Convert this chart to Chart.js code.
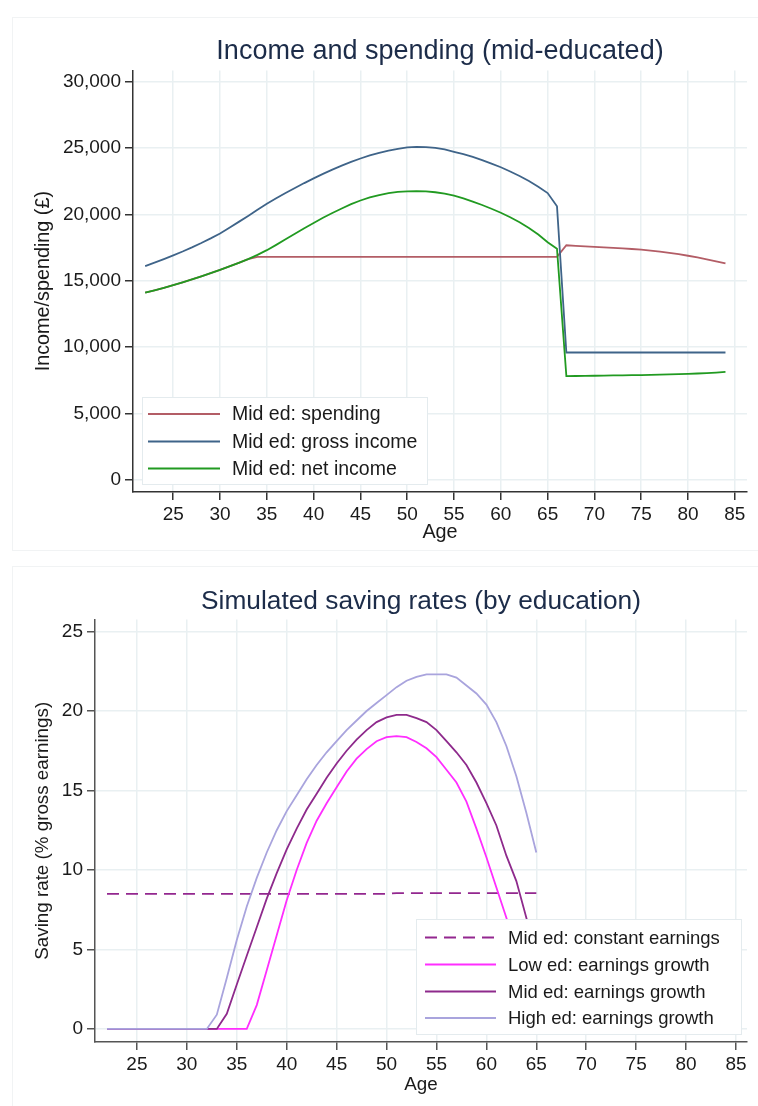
<!DOCTYPE html>
<html>
<head>
<meta charset="utf-8">
<script src="https://cdn.jsdelivr.net/npm/chart.js"></script>
<style>
  html, body { margin: 0; padding: 0; background: #fff; }
  .panel { position: absolute; left: 0; }
</style>
</head>
<body>
<canvas id="incomeChart" class="panel" width="758" height="553" style="top:0"></canvas>
<canvas id="savingChart" class="panel" width="758" height="553" style="top:553px"></canvas>
<script>
    // ---- data: income and spending, mid-educated, ages 22-84 ----
    const range = (a, b) => Array.from({ length: b - a + 1 }, (_, i) => a + i);

    const incomeAges = range(22, 84);
    const incomeTicksX = [25, 30, 35, 40, 45, 50, 55, 60, 65, 70, 75, 80, 85];
    const incomeTicksY = [0, 5000, 10000, 15000, 20000, 25000, 30000];

    const spending = [
        14100, 14280, 14470, 14670, 14880, 15100, 15330, 15570, 15820, 16080, 16350, 16630,
        16800, 16800, 16800, 16800, 16800, 16800, 16800, 16800, 16800, 16800, 16800, 16800,
        16800, 16800, 16800, 16800, 16800, 16800, 16800, 16800, 16800, 16800, 16800, 16800,
        16800, 16800, 16800, 16800, 16800, 16800, 16800, 16800, 16800,
        17670, 17630, 17590, 17550, 17510, 17470, 17430, 17390, 17340, 17270, 17190, 17100,
        17000, 16880, 16750, 16610, 16460, 16300
    ];
    const grossIncome = [
        16100, 16360, 16630, 16910, 17200, 17510, 17840, 18190, 18560, 18990, 19430, 19880,
        20340, 20800, 21210, 21600, 21980, 22350, 22700, 23040, 23360, 23660, 23940, 24200,
        24430, 24620, 24790, 24930, 25030, 25070, 25060, 25000, 24880, 24700, 24520, 24320,
        24080, 23820, 23540, 23220, 22880, 22500, 22080, 21600, 20600,
        9600, 9600, 9600, 9600, 9600, 9600, 9600, 9600, 9600, 9600, 9600, 9600,
        9600, 9600, 9600, 9600, 9600, 9600
    ];
    const netIncome = [
        14100, 14280, 14470, 14670, 14880, 15100, 15330, 15570, 15820, 16080, 16350, 16630,
        16950, 17300, 17700, 18120, 18540, 18950, 19350, 19740, 20100, 20440, 20760, 21040,
        21270, 21450, 21590, 21680, 21730, 21750, 21730, 21660, 21550, 21400, 21200, 20960,
        20700, 20420, 20120, 19780, 19400, 18970, 18480, 17900, 17400,
        7820, 7830, 7840, 7850, 7860, 7870, 7880, 7890, 7900, 7910, 7930, 7950,
        7970, 7990, 8020, 8050, 8090, 8140
    ];

    // ---- data: saving rates by education, ages 22-65 ----
    const savingAges = range(22, 65);
    const savingTicksX = [25, 30, 35, 40, 45, 50, 55, 60, 65, 70, 75, 80, 85];
    const savingTicksY = [0, 5, 10, 15, 20, 25];

    const midConstant = [
        8.5, 8.5, 8.5, 8.5, 8.5, 8.5, 8.5, 8.5, 8.5, 8.5, 8.5, 8.5, 8.5, 8.5, 8.5,
        8.5, 8.5, 8.5, 8.5, 8.5, 8.5, 8.5, 8.5, 8.5, 8.5, 8.5, 8.5, 8.5, 8.5,
        8.55, 8.55, 8.55, 8.55, 8.55, 8.55, 8.55, 8.55, 8.55, 8.55, 8.55, 8.55, 8.55, 8.55, 8.55
    ];
    const lowGrowth = [
        0, 0, 0, 0, 0, 0, 0, 0, 0, 0, 0, 0, 0, 0, 0,
        1.5, 3.7, 5.9, 8.1, 10.0, 11.7, 13.1, 14.2, 15.2, 16.2, 17.0, 17.6, 18.1, 18.35, 18.42,
        18.35, 18.05, 17.65, 17.1, 16.3, 15.5, 14.3, 12.6, 10.8, 8.9, 7.0, 5.0, 2.8, 0.5
    ];
    const midGrowth = [
        0, 0, 0, 0, 0, 0, 0, 0, 0, 0, 0, 0,
        0.95, 2.8, 4.6, 6.4, 8.2, 9.8, 11.3, 12.6, 13.8, 14.8, 15.8, 16.7, 17.5, 18.2, 18.8,
        19.3, 19.6, 19.75, 19.75, 19.55, 19.3, 18.8, 18.1, 17.4, 16.6, 15.5, 14.2, 12.8, 10.9,
        9.3, 7.0, 4.5
    ];
    const highGrowth = [
        0, 0, 0, 0, 0, 0, 0, 0, 0, 0, 0,
        0.9, 3.2, 5.6, 7.7, 9.5, 11.1, 12.5, 13.7, 14.7, 15.7, 16.6, 17.4, 18.1, 18.8, 19.4,
        20.0, 20.5, 21.0, 21.5, 21.9, 22.15, 22.3, 22.3, 22.3, 22.1, 21.6, 21.1, 20.4, 19.3,
        17.8, 15.9, 13.6, 11.1
    ];

    const FONT = "'Liberation Sans', Arial, sans-serif";
    Chart.defaults.font.family = FONT;
    Chart.defaults.color = '#1a1a1a';

    const toPoints = (xs, ys) => xs.map((x, i) => ({ x: x, y: ys[i] }));

    // faint frame round each graph region
    const framePlugin = {
        id: 'frame',
        beforeDraw(chart, args, opts) {
            const ctx = chart.ctx;
            ctx.save();
            ctx.fillStyle = '#fff';
            ctx.fillRect(0, 0, chart.width, chart.height);
            ctx.strokeStyle = '#f1f3f4';
            ctx.lineWidth = 1;
            ctx.strokeRect(opts.x + 0.5, opts.y + 0.5, opts.w, opts.h);
            ctx.restore();
        }
    };

    // legend drawn inside the plot, on top of the lines
    const boxLegendPlugin = {
        id: 'boxLegend',
        afterDatasetsDraw(chart, args, opts) {
            const ctx = chart.ctx;
            const [x0, y0, x1, y1] = opts.box;
            ctx.save();
            ctx.fillStyle = '#fff';
            ctx.fillRect(x0, y0, x1 - x0, y1 - y0);
            ctx.strokeStyle = '#e4ebee';
            ctx.lineWidth = 1;
            ctx.strokeRect(x0 + 0.5, y0 + 0.5, x1 - x0, y1 - y0);
            ctx.font = opts.fontSize + 'px ' + FONT;
            ctx.textBaseline = 'middle';
            chart.data.datasets.forEach((ds, i) => {
                const y = opts.rows[i];
                ctx.strokeStyle = ds.borderColor;
                ctx.lineWidth = ds.borderWidth;
                ctx.setLineDash(ds.borderDash || []);
                ctx.beginPath();
                ctx.moveTo(opts.sample[0], y);
                ctx.lineTo(opts.sample[1], y);
                ctx.stroke();
                ctx.setLineDash([]);
                ctx.fillStyle = '#1a1a1a';
                ctx.fillText(ds.label, opts.textX, y + 1);
            });
            ctx.restore();
        }
    };

    function axisX(min, max, ticks, height, titleSize, titlePad, axisColor) {
        return {
            type: 'linear',
            min: min,
            max: max,
            afterBuildTicks: (s) => { s.ticks = ticks.map(v => ({ value: v })); },
            afterFit: (s) => { s.height = height; },
            grid: { color: '#e9f0f2', lineWidth: 1.5, tickColor: axisColor, tickLength: 8, tickWidth: 1.5 },
            border: { color: axisColor, width: 1.5 },
            ticks: { font: { size: 19 }, color: '#1a1a1a', padding: 3, maxRotation: 0 },
            title: { display: true, text: 'Age', font: { size: titleSize }, color: '#1a1a1a',
                     padding: { top: titlePad, bottom: titlePad } }
        };
    }

    function axisY(min, max, ticks, width, title, titleSize, axisColor, fmt) {
        return {
            type: 'linear',
            min: min,
            max: max,
            afterBuildTicks: (s) => { s.ticks = ticks.map(v => ({ value: v })); },
            afterFit: (s) => { s.width = width; },
            grid: { color: '#e9f0f2', lineWidth: 1.5, tickColor: axisColor, tickLength: 8, tickWidth: 1.5 },
            border: { color: axisColor, width: 1.5 },
            ticks: { font: { size: 19 }, color: '#1a1a1a', padding: 4, callback: fmt },
            title: { display: true, text: title, font: { size: titleSize }, color: '#1a1a1a',
                     padding: { top: 32, bottom: 32 } }
        };
    }

    function titleOpts(text, size, top, bottom) {
        return {
            display: true,
            text: text,
            fullSize: false,
            color: '#1c2c49',
            font: { size: size, weight: 'normal' },
            padding: { top: top, bottom: bottom }
        };
    }

    const line = (label, xs, ys, color, order, extra) => Object.assign({
        label: label,
        data: toPoints(xs, ys),
        borderColor: color,
        borderWidth: 1.8,
        pointRadius: 0,
        tension: 0,
        fill: false,
        order: order
    }, extra || {});

    new Chart(document.getElementById('incomeChart'), {
        type: 'line',
        data: {
            datasets: [
                line('Mid ed: spending', incomeAges, spending, '#b35d66', 2),
                line('Mid ed: gross income', incomeAges, grossIncome, '#3f6489', 1),
                line('Mid ed: net income', incomeAges, netIncome, '#219a21', 0)
            ]
        },
        options: {
            responsive: false,
            animation: false,
            devicePixelRatio: 1,
            layout: { padding: { top: 0, right: 11, bottom: 0, left: 0 } },
            scales: {
                x: axisX(20.7, 86.3, incomeTicksX, 61, 19.8, 9, '#333'),
                y: axisY(-900, 30830, incomeTicksY, 133, 'Income/spending (£)', 19.8, '#333',
                    (v) => v.toLocaleString('en-US'))
            },
            plugins: {
                legend: { display: false },
                tooltip: { enabled: false },
                title: titleOpts('Income and spending (mid-educated)', 27, 35, 3),
                frame: { x: 12, y: 17, w: 760, h: 533 },
                boxLegend: {
                    box: [142, 397, 427, 484],
                    rows: [414, 441.5, 468.5],
                    sample: [148, 220],
                    textX: 232,
                    fontSize: 19.5
                }
            }
        },
        plugins: [framePlugin, boxLegendPlugin]
    });

    new Chart(document.getElementById('savingChart'), {
        type: 'line',
        data: {
            datasets: [
                line('Mid ed: constant earnings', savingAges, midConstant, '#93278f', 3, { borderDash: [12, 7] }),
                line('Low ed: earnings growth', savingAges, lowGrowth, '#ff2eff', 2),
                line('Mid ed: earnings growth', savingAges, midGrowth, '#8e2a8c', 1),
                line('High ed: earnings growth', savingAges, highGrowth, '#a9a4dd', 0)
            ]
        },
        options: {
            responsive: false,
            animation: false,
            devicePixelRatio: 1,
            layout: { padding: { top: 0, right: 11, bottom: 0, left: 0 } },
            scales: {
                x: axisX(20.8, 86.1, savingTicksX, 64, 18.8, 10, '#555'),
                y: axisY(-0.82, 25.75, savingTicksY, 95, 'Saving rate (% gross earnings)', 18.8, '#555',
                    (v) => String(v))
            },
            plugins: {
                legend: { display: false },
                tooltip: { enabled: false },
                title: titleOpts('Simulated saving rates (by education)', 26.3, 33, 2),
                frame: { x: 12, y: 13, w: 760, h: 560 },
                boxLegend: {
                    box: [416, 366, 741, 481],
                    rows: [384.5, 411.5, 438.5, 465],
                    sample: [425, 496],
                    textX: 508,
                    fontSize: 18.5
                }
            }
        },
        plugins: [framePlugin, boxLegendPlugin]
    });
</script>
</body>
</html>
